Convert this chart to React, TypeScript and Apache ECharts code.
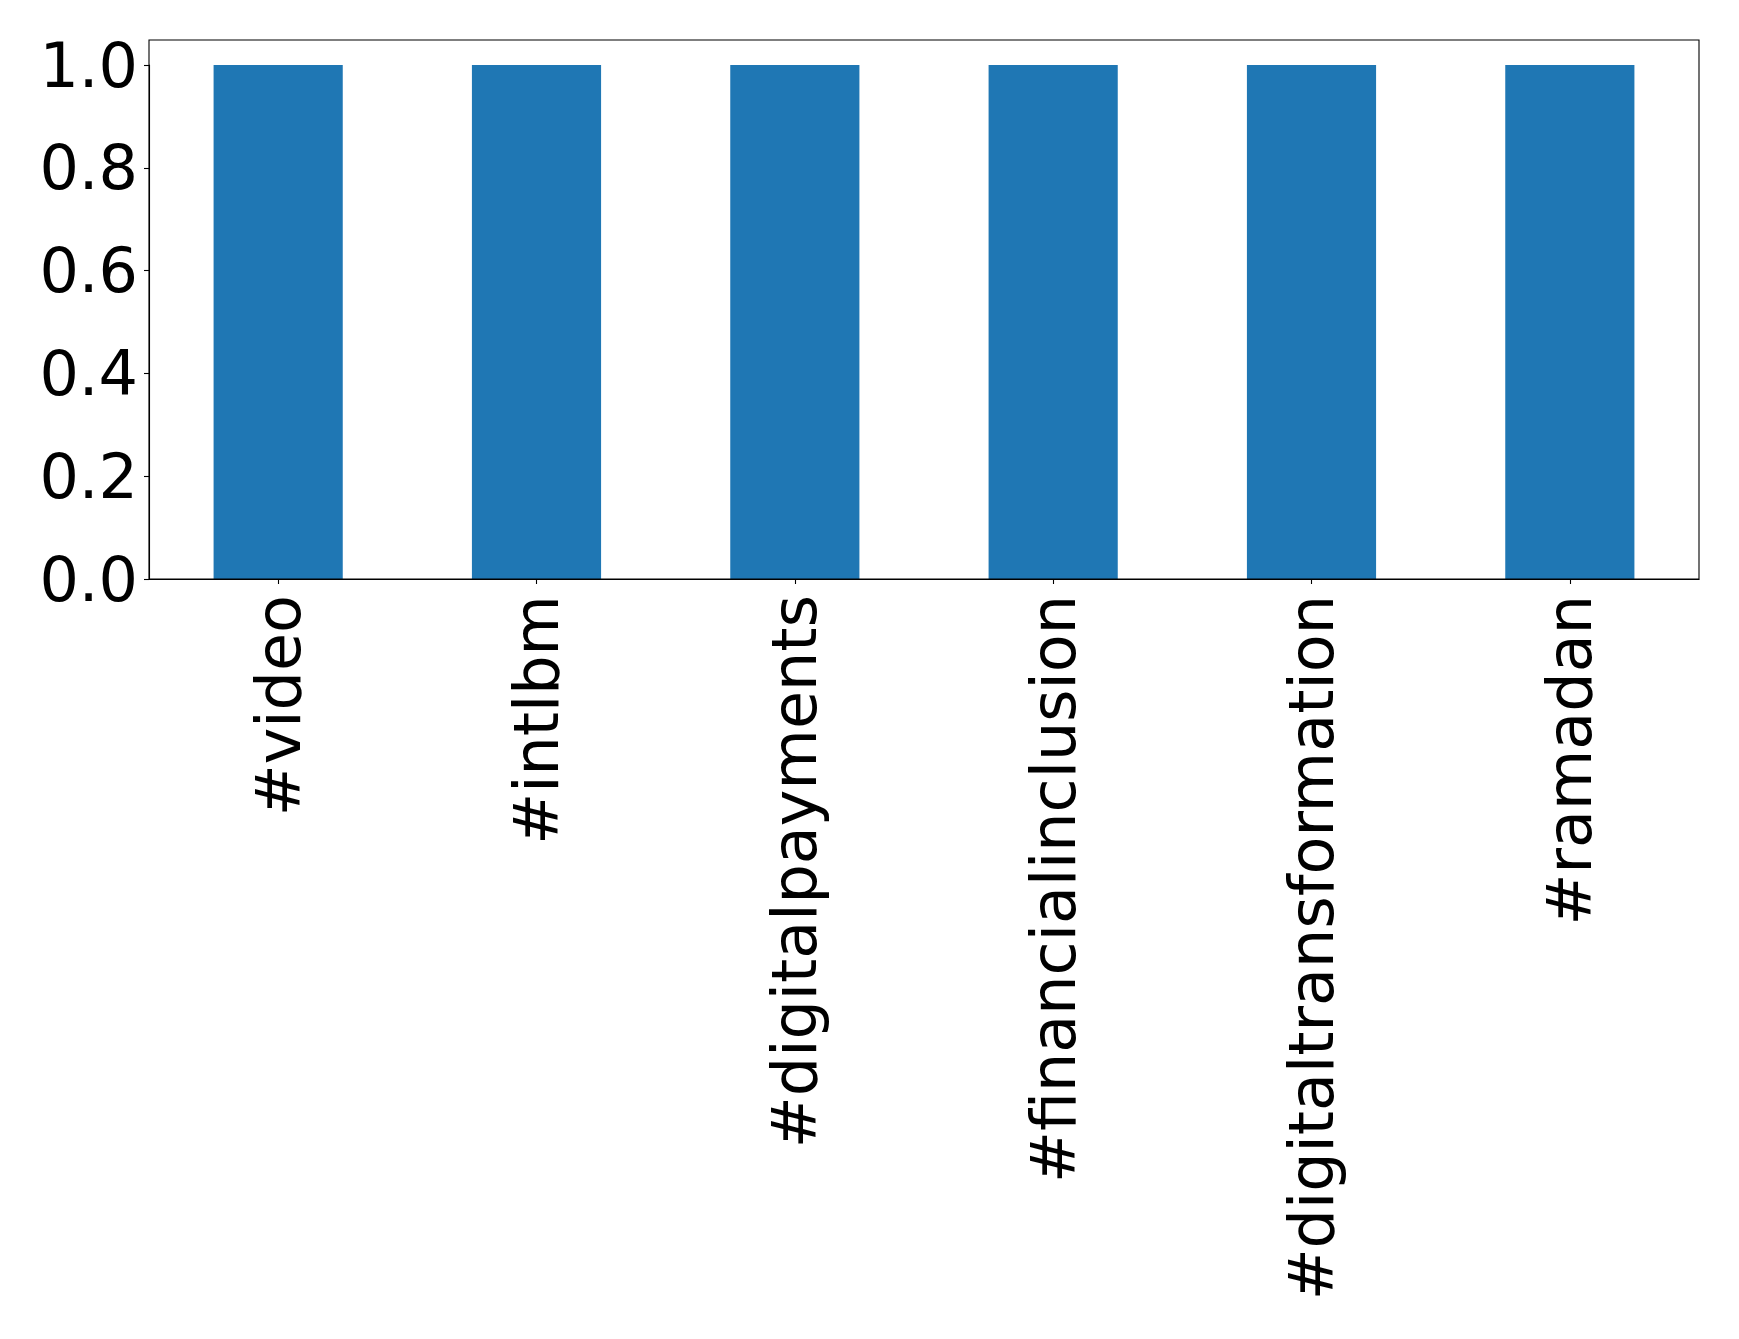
import React, { useEffect, useRef } from "react";
import * as echarts from "echarts";

const categories = [
  "#video",
  "#intlbm",
  "#digitalpayments",
  "#financialinclusion",
  "#digitaltransformation",
  "#ramadan",
];
const values = [1, 1, 1, 1, 1, 1];
const yMin = 0;
const yMax = 1.0;
const yInterval = 0.2;

const W = 1739;
const H = 1339;
const FONT = "DejaVu Sans";

export default function App() {
  const ref = useRef<HTMLDivElement>(null);
  useEffect(() => {
    if (!ref.current) return;
    const chart = echarts.init(ref.current, undefined, { renderer: "svg" });
    const gridLeft = 149;
    const gridRight = 40;
    const plotTop = 40;
    const gridTop = 65;
    const gridBottom = 760;
    chart.setOption({
      animation: false,
      backgroundColor: "#ffffff",
      grid: { left: gridLeft, right: gridRight, top: gridTop, bottom: gridBottom, containLabel: false },
      xAxis: {
        type: "category",
        data: categories,
        axisLine: { show: true, lineStyle: { color: "#000", width: 1.1 } },
        axisTick: { show: true, alignWithLabel: true, length: 5, lineStyle: { color: "#000", width: 1.1 } },
        axisLabel: {
          rotate: 90,
          margin: 16,
          fontFamily: FONT,
          fontSize: 62,
          color: "#000",
          interval: 0,
        },
        splitLine: { show: false },
      },
      yAxis: {
        type: "value",
        min: yMin,
        max: yMax,
        interval: yInterval,
        axisLine: { show: true, lineStyle: { color: "#000", width: 1.1 } },
        axisTick: { show: true, length: 5, lineStyle: { color: "#000", width: 1.1 } },
        axisLabel: {
          margin: 11,
          fontFamily: FONT,
          fontSize: 62,
          color: "#000",
          formatter: (v: number) => v.toFixed(1),
        },
        splitLine: { show: false },
      },
      series: [
        {
          type: "bar",
          data: values,
          barWidth: "50%",
          itemStyle: { color: "#1f77b4" },
        },
      ],
      graphic: [
        {
          type: "rect",
          silent: true,
          z: 100,
          shape: {
            x: gridLeft,
            y: plotTop,
            width: W - gridLeft - gridRight,
            height: H - gridBottom - plotTop,
          },
          style: { fill: "none", stroke: "#000", lineWidth: 1.1 },
        },
      ],
    });
    return () => chart.dispose();
  }, []);
  return (
    <div
      ref={ref}
      style={{ position: "fixed", left: 0, top: 0, width: W, height: H, background: "#fff" }}
    />
  );
}
